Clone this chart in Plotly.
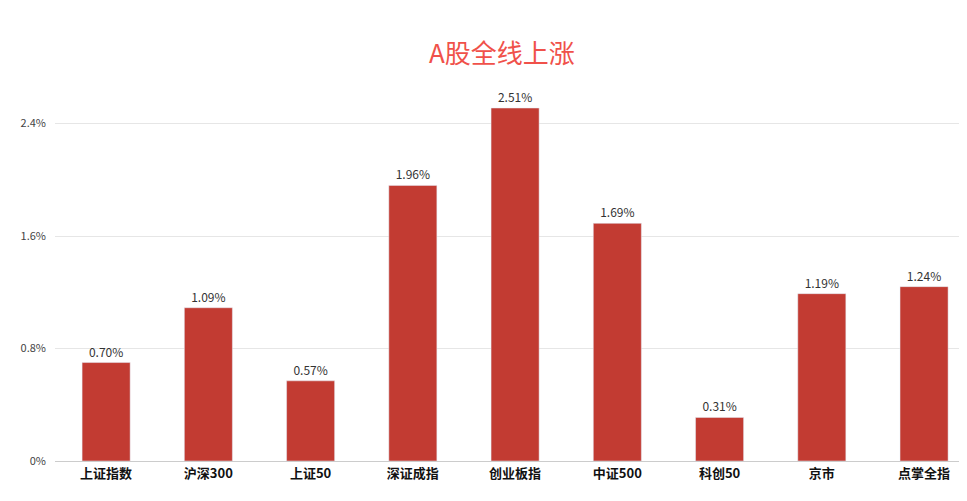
import plotly.graph_objects as go

categories = ["上证指数", "沪深300", "上证50", "深证成指", "创业板指", "中证500", "科创50", "京市", "点掌全指"]
values = [0.70, 1.09, 0.57, 1.96, 2.51, 1.69, 0.31, 1.19, 1.24]
y_ticks = [0, 0.8, 1.6, 2.4, 3.2]
y_labels = ["0%", "0.8%", "1.6%", "2.4%", "3.2%"]

fig = go.Figure()
fig.add_trace(go.Bar(
    x=list(range(len(categories))), y=values,
    marker_color="#C23B32", width=0.47,
    text=[f"{v:.2f}%" for v in values], textposition="outside",
    textfont=dict(size=12, color="#333333"), cliponaxis=False,
))

fig.update_layout(
    width=959, height=493,
    margin=dict(l=47, r=0, t=3, b=40),
    paper_bgcolor="white", plot_bgcolor="white",
    font=dict(family="Noto Sans CJK SC"),
    showlegend=False,
    title=dict(text="A股全线上涨", x=0.515, y=0.925, xanchor="center",
               font=dict(size=26, color="#F0514A")),
    xaxis=dict(tickvals=list(range(len(categories))), ticktext=categories,
               range=[-0.5, 8.42], showgrid=False, showline=True,
               linecolor="#cccccc", ticks="",
               tickfont=dict(size=13, color="#111111", weight="bold")),
    yaxis=dict(range=[0, 3.2], tickvals=y_ticks, ticktext=y_labels,
               showgrid=True, gridcolor="#e6e6e6", zeroline=False,
               tickfont=dict(size=11, color="#444444"), ticklabelstandoff=8),
)

fig.write_html("out.html")
